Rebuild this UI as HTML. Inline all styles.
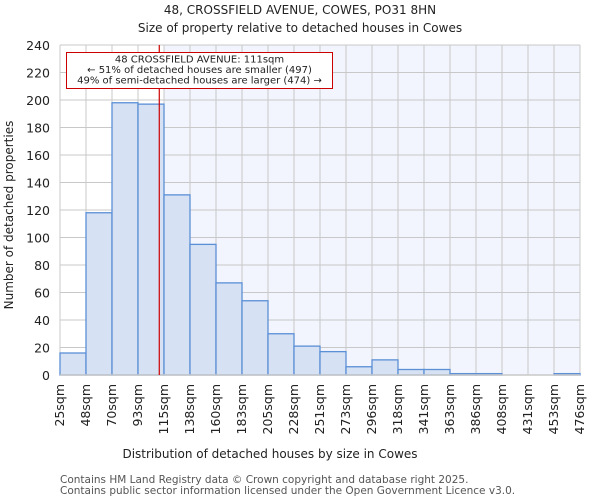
<!DOCTYPE html>
<html><head><meta charset="utf-8"><style>
body{margin:0;background:#fff;font-family:"DejaVu Sans","Liberation Sans",sans-serif}
</style></head><body>
<svg width="600" height="500" xmlns="http://www.w3.org/2000/svg" font-family="DejaVu Sans, Liberation Sans, sans-serif">
<text x="300" y="14" text-anchor="middle" font-size="12" fill="#222">48, CROSSFIELD AVENUE, COWES, PO31 8HN</text>
<text x="300" y="32" text-anchor="middle" font-size="12" fill="#222">Size of property relative to detached houses in Cowes</text>
<g id="plot"></g>
<text x="270" y="458" text-anchor="middle" font-size="12" fill="#222">Distribution of detached houses by size in Cowes</text>
<text x="13" y="215" text-anchor="middle" font-size="12" fill="#222" transform="rotate(-90 13 215)">Number of detached properties</text>
<text x="60" y="483" font-size="10.5" fill="#555">Contains HM Land Registry data © Crown copyright and database right 2025.</text>
<text x="60" y="494" font-size="10.5" fill="#555">Contains public sector information licensed under the Open Government Licence v3.0.</text>
</svg>
<script>
const binLabels=["25sqm","48sqm","70sqm","93sqm","115sqm","138sqm","160sqm","183sqm","205sqm","228sqm","251sqm","273sqm","296sqm","318sqm","341sqm","363sqm","386sqm","408sqm","431sqm","453sqm","476sqm"];
const binEdges=[25,48,70,93,115,138,160,183,205,228,251,273,296,318,341,363,386,408,431,453,476];
const counts=[16,118,198,197,131,95,67,54,30,21,17,6,11,4,4,1,1,0,0,1];
const yTicks=[0,20,40,60,80,100,120,140,160,180,200,220,240];
const propertySize=111;
const L=60,R=580,T=45,B=375,yMax=240;
const NS="http://www.w3.org/2000/svg";
const g=document.getElementById('plot');
const n=counts.length;
const bw=(R-L)/n;
const xi=i=>L+i*bw;
const y=v=>B-(v/yMax)*(B-T);
function xv(v){for(let i=0;i<binEdges.length-1;i++){if(v<=binEdges[i+1])return xi(i)+bw*(v-binEdges[i])/(binEdges[i+1]-binEdges[i]);}return R;}
function binEnd(v){for(let i=0;i<binEdges.length-1;i++){if(v<=binEdges[i+1])return xi(i+1);}return R;}
function mk(t,a){const e=document.createElementNS(NS,t);for(const k in a)e.setAttribute(k,a[k]);g.appendChild(e);return e;}
const px=xv(propertySize);
const sx=binEnd(propertySize);
let e=mk('rect',{x:L,y:T,width:R-L,height:B-T,fill:'#ffffff'});


e=mk('rect',{x:sx,y:T,width:R-sx,height:B-T,fill:'#f2f5fd'});


for(let i=0;i<=n;i++){e=mk('line',{x1:xi(i),x2:xi(i),y1:T,y2:B,stroke:'#c8c8c8','stroke-width':1});

}
yTicks.forEach(t=>{e=mk('line',{x1:L,x2:R,y1:y(t),y2:y(t),stroke:'#c8c8c8','stroke-width':1});


e=mk('text',{x:L-10,y:y(t)+5,'text-anchor':'end','font-size':12.5,fill:'#222'});e.textContent=t;

});
counts.forEach((c,i)=>{e=mk('rect',{x:xi(i),y:y(c),width:bw,height:B-y(c),fill:'#d6e1f3',stroke:'#5b8fd6','stroke-width':1.3});

});
binLabels.forEach((l,i)=>{const xx=xi(i)+4;e=mk('text',{x:xx,y:384,'text-anchor':'end','font-size':12.5,fill:'#222',transform:`rotate(-90 ${xx} 384)`});e.textContent=l;

});
e=mk('line',{x1:L,x2:R,y1:B,y2:B,stroke:'#c8c8c8','stroke-width':1.5});


e=mk('line',{x1:px,x2:px,y1:T,y2:B,stroke:'#cc0000','stroke-width':1.2});


e=mk('rect',{x:66.5,y:52.5,width:266,height:36,fill:'#fff',stroke:'#cc0000','stroke-width':1});


["48 CROSSFIELD AVENUE: 111sqm","← 51% of detached houses are smaller (497)","49% of semi-detached houses are larger (474) →"].forEach((s,i)=>{e=mk('text',{x:199.5,y:62.5+i*10.5,'text-anchor':'middle','font-size':10,fill:'#222'});e.textContent=s;

});
</script>
</body></html>
